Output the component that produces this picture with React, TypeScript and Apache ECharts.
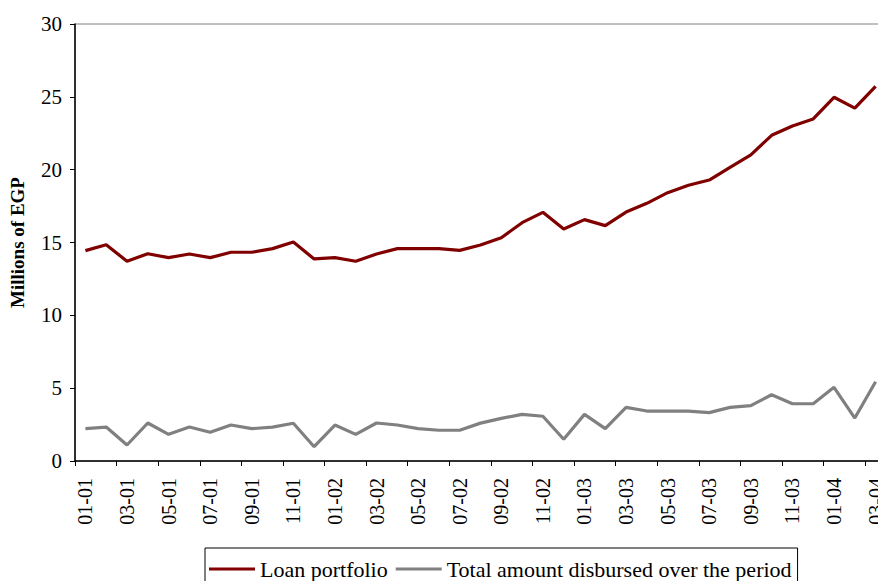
import React, { useEffect, useRef } from "react";
import * as echarts from "echarts";

const categories: string[] = [
  "01-01", "02-01", "03-01", "04-01", "05-01", "06-01", "07-01", "08-01", "09-01", "10-01", "11-01", "12-01",
  "01-02", "02-02", "03-02", "04-02", "05-02", "06-02", "07-02", "08-02", "09-02", "10-02", "11-02", "12-02",
  "01-03", "02-03", "03-03", "04-03", "05-03", "06-03", "07-03", "08-03", "09-03", "10-03", "11-03", "12-03",
  "01-04", "02-04", "03-04",
];

const loanPortfolio: number[] = [
  14.44, 14.85, 13.71, 14.23, 13.96, 14.21, 13.96, 14.33, 14.33, 14.58, 15.03, 13.87,
  13.96, 13.71, 14.21, 14.58, 14.58, 14.58, 14.46, 14.83, 15.33, 16.36, 17.07, 15.93,
  16.57, 16.16, 17.09, 17.69, 18.42, 18.93, 19.29, 20.16, 21.01, 22.36, 23.0, 23.48,
  24.97, 24.23, 25.72,
];

const disbursed: number[] = [
  2.22, 2.33, 1.1, 2.61, 1.83, 2.33, 1.97, 2.47, 2.22, 2.33, 2.59, 0.98,
  2.47, 1.83, 2.61, 2.47, 2.22, 2.11, 2.11, 2.6, 2.93, 3.2, 3.07, 1.49,
  3.2, 2.22, 3.68, 3.43, 3.43, 3.43, 3.32, 3.68, 3.8, 4.55, 3.93, 3.93,
  5.06, 2.95, 5.44,
];

const seriesNames: string[] = ["Loan portfolio", "Total amount disbursed over the period"];
const yTicks = { min: 0, max: 30, interval: 5 };

const FONT = '"Liberation Serif", "Times New Roman", serif';

export default function App() {
  const ref = useRef<HTMLDivElement>(null);
  useEffect(() => {
    if (!ref.current) return;
    const chart = echarts.init(ref.current, null, { renderer: "svg" });
    chart.setOption({
      animation: false,
      backgroundColor: "#ffffff",
      textStyle: { fontFamily: FONT, color: "#000" },
      grid: {
        left: 75,
        top: 24,
        width: 811,
        bottom: 120,
        outerBoundsMode: "none",
        containLabel: false,
        show: true,
        borderColor: "#808080",
        borderWidth: 1,
        backgroundColor: "transparent",
      },
      legend: {
        left: 205,
        top: 548,
        orient: "horizontal",
        icon: "rect",
        itemWidth: 46,
        itemHeight: 3,
        itemGap: 8,
        padding: [10, 6, 10, 4],
        borderColor: "#000",
        borderWidth: 1,
        textStyle: { fontFamily: FONT, fontSize: 22, color: "#000" },
        data: seriesNames,
      },
      xAxis: {
        type: "category",
        data: categories,
        boundaryGap: true,
        axisLine: { show: true, lineStyle: { color: "#000", width: 1.5 } },
        axisTick: { show: true, interval: 1, length: 5, lineStyle: { color: "#000" } },
        axisLabel: {
          interval: 1,
          rotate: 90,
          margin: 17,
          fontFamily: FONT,
          fontSize: 20,
          color: "#000",
        },
        splitLine: { show: false },
      },
      yAxis: {
        type: "value",
        min: yTicks.min,
        max: yTicks.max,
        interval: yTicks.interval,
        name: "Millions of EGP",
        nameLocation: "middle",
        nameGap: 48,
        nameTextStyle: { fontFamily: FONT, fontSize: 19, fontWeight: "bold", color: "#000" },
        axisLine: { show: true, lineStyle: { color: "#000", width: 1.5 } },
        axisTick: { show: true, length: 5, lineStyle: { color: "#000" } },
        axisLabel: { margin: 13, fontFamily: FONT, fontSize: 21, color: "#000" },
        splitLine: { show: false },
      },
      series: [
        {
          name: seriesNames[0],
          type: "line",
          data: loanPortfolio,
          symbol: "none",
          lineStyle: { color: "#800000", width: 3.2 },
          itemStyle: { color: "#800000" },
        },
        {
          name: seriesNames[1],
          type: "line",
          data: disbursed,
          symbol: "none",
          lineStyle: { color: "#808080", width: 3.2 },
          itemStyle: { color: "#808080" },
        },
      ],
    });
    return () => chart.dispose();
  }, []);
  return <div ref={ref} style={{ width: 878, height: 581, position: "absolute", left: 0, top: 0 }} />;
}
